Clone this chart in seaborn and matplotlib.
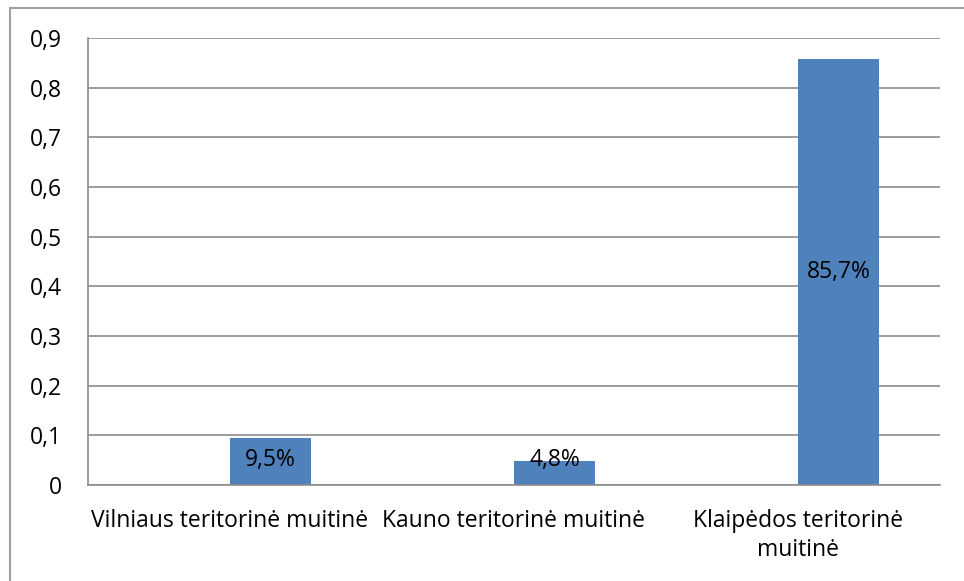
import matplotlib
matplotlib.use("Agg")
import matplotlib.pyplot as plt
import seaborn as sns
import pandas as pd

categories = ["Vilniaus teritorinė muitinė", "Kauno teritorinė muitinė", "Klaipėdos teritorinė\nmuitinė"]
shares = [0.095, 0.048, 0.857]
labels = ["9,5%", "4,8%", "85,7%"]
yticks = [0, 0.1, 0.2, 0.3, 0.4, 0.5, 0.6, 0.7, 0.8, 0.9]

sns.set_theme(style="white")
plt.rcParams["font.family"] = ["Open Sans", "DejaVu Sans"]

df = pd.DataFrame({"cat": categories, "share": shares, "series": "share"})

fig = plt.figure(figsize=(9.64, 5.81), dpi=100)
ax = fig.add_axes([88 / 964, 1 - 485 / 581, (940 - 88) / 964, (485 - 38) / 581])

# empty first series keeps the bars right of the category centre, as in the source
sns.barplot(data=df, x="cat", y="share", hue="series", hue_order=["empty", "share"],
            order=categories, palette={"empty": "#4F81BD", "share": "#4F81BD"},
            width=0.57, dodge=True, linewidth=0, saturation=1, errorbar=None,
            legend=False, ax=ax)

grid_c = "#8C8C8C"
fs = 16.5
ax.set_ylim(0, 0.9)
ax.set_xlim(-0.5, 2.5)
ax.set_yticks(yticks)
ax.set_yticklabels([("%g" % t).replace(".", ",") for t in yticks], fontsize=fs, color="black")
ax.yaxis.grid(True, color=grid_c, linewidth=1.2)
ax.set_axisbelow(True)
ax.set_xlabel("")
ax.set_ylabel("")

for s in ["top", "right"]:
    ax.spines[s].set_visible(False)
for s in ["left", "bottom"]:
    ax.spines[s].set_color(grid_c)
    ax.spines[s].set_linewidth(1.2)

ax.set_xticks([0, 1, 2])
ax.set_xticklabels(categories, fontsize=fs, color="black", linespacing=1.25)
ax.tick_params(axis="x", length=0, pad=17.5)
ax.set_xticks([-0.5, 0.5, 1.5, 2.5], minor=True)
ax.tick_params(axis="x", which="minor", length=8, color=grid_c, width=1.2, direction="out")
ax.tick_params(axis="y", length=9, color=grid_c, width=1.2, direction="out", pad=10)

bars = [p for p in ax.patches if p.get_height() > 0]
bars.sort(key=lambda p: p.get_x())
for p, lab in zip(bars, labels):
    ax.text(p.get_x() + p.get_width() / 2, max(p.get_height() / 2, 0.05), lab,
            ha="center", va="center", fontsize=fs, color="black")

fig.add_artist(plt.Rectangle((10 / 964, -0.1), 1.2, 1 - 8 / 581 + 0.1,
                             transform=fig.transFigure, fill=False,
                             edgecolor="#A0A0A0", linewidth=1.5))

fig.savefig("out.png", dpi=100)
